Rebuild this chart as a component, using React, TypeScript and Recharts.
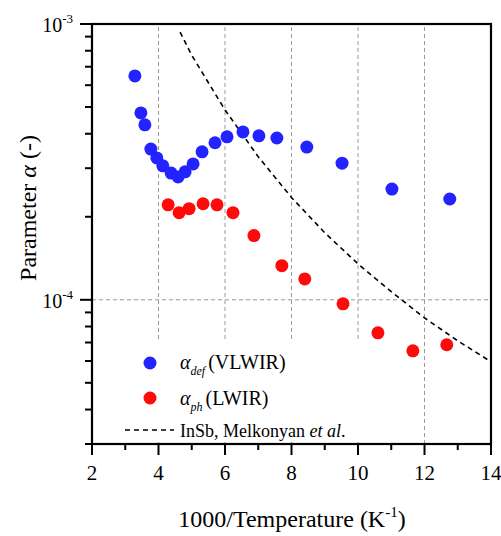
import React from 'react';
import {
  ScatterChart,
  Scatter,
  XAxis,
  YAxis,
  ReferenceLine,
} from 'recharts';

// VLWIR (alpha_def)
const defX = [3.29, 3.47, 3.59, 3.77, 3.95, 4.13, 4.38, 4.59, 4.8, 5.04, 5.31, 5.7, 6.06, 6.54, 7.02, 7.56, 8.46, 9.52, 11.02, 12.76];
const defA = [6.48e-4, 4.76e-4, 4.31e-4, 3.52e-4, 3.27e-4, 3.06e-4, 2.88e-4, 2.79e-4, 2.91e-4, 3.11e-4, 3.44e-4, 3.71e-4, 3.9e-4, 4.06e-4, 3.93e-4, 3.86e-4, 3.58e-4, 3.13e-4, 2.52e-4, 2.32e-4];

// LWIR (alpha_ph)
const phX = [4.29, 4.62, 4.92, 5.34, 5.76, 6.24, 6.87, 7.71, 8.4, 9.55, 10.6, 11.65, 12.67];
const phA = [2.21e-4, 2.07e-4, 2.14e-4, 2.23e-4, 2.21e-4, 2.07e-4, 1.71e-4, 1.33e-4, 1.19e-4, 9.67e-5, 7.59e-5, 6.53e-5, 6.87e-5];

// InSb, Melkonyan et al. (dashed)
const insbX = [4.65, 5, 6, 7, 8, 9, 10, 11, 12, 13, 14];
const insbA = [9.35e-4, 7.7e-4, 4.88e-4, 3.3e-4, 2.35e-4, 1.75e-4, 1.35e-4, 1.07e-4, 8.6e-5, 7.1e-5, 5.96e-5];

const xTicks = [2, 3, 4, 5, 6, 7, 8, 9, 10, 11, 12, 13, 14];
const yTicks = [3e-5, 4e-5, 5e-5, 6e-5, 7e-5, 8e-5, 9e-5, 1e-4, 2e-4, 3e-4, 4e-4, 5e-4, 6e-4, 7e-4, 8e-4, 9e-4, 1e-3];
const gridX = [4, 6, 8, 10, 12];

const toPoints = (xs: number[], ys: number[]) => xs.map((x, i) => ({ x, y: ys[i] }));

const BLUE = '#2323ff';
const RED = '#ff0a0a';
const serif = (size: number) => ({ fontFamily: 'Liberation Serif', fontSize: size });

// plot box (matches chart margins + axis sizes below)
const W = 501, H = 536;
const M = { top: 24, right: 10, bottom: 12, left: 12 };
const AX_W = 80, AX_H = 80;
const PL = M.left + AX_W, PT = M.top;
const PR = W - M.right, PB = H - M.bottom - AX_H;
const X0 = 2, X1 = 14, Y0 = 3e-5, Y1 = 1e-3;
const sx = (v: number) => PL + ((v - X0) / (X1 - X0)) * (PR - PL);
const sy = (v: number) =>
  PB - ((Math.log10(v) - Math.log10(Y0)) / (Math.log10(Y1) - Math.log10(Y0))) * (PB - PT);

const Dot = (color: string) => (props: any) => (
  <circle cx={props.cx} cy={props.cy} r={6.5} fill={color} />
);

function Axes() {
  return (
    <g>
      {xTicks.map((v) => {
        const major = v % 2 === 0;
        const x = sx(v);
        return (
          <g key={`x${v}`}>
            <line x1={x} x2={x} y1={PB} y2={PB + (major ? 11 : 6)} stroke="#000" strokeWidth={2} />
            {major && (
              <text x={x} y={PB + 36} textAnchor="middle" style={serif(21)} fill="#000">
                {v}
              </text>
            )}
          </g>
        );
      })}
      {yTicks.map((v) => {
        const lg = Math.log10(v);
        const major = Math.abs(lg - Math.round(lg)) < 1e-6;
        const y = sy(v);
        return (
          <g key={`y${v}`}>
            <line x1={PL} x2={PL - (major ? 12 : 7)} y1={y} y2={y} stroke="#000" strokeWidth={2} />
            {major && (
              <text x={PL - 19} y={y + 8} textAnchor="end" style={serif(20)} fill="#000">
                10<tspan dy={-9} style={serif(13)}>{Math.round(lg)}</tspan>
              </text>
            )}
          </g>
        );
      })}
      <rect x={PL} y={PT} width={PR - PL} height={PB - PT} fill="none" stroke="#000" strokeWidth={2.2} />
    </g>
  );
}

export default function App() {
  return (
    <div style={{ position: 'absolute', left: 0, top: 0, width: W, height: H, background: '#fff' }}>
      <ScatterChart width={W} height={H} margin={M}>
        <XAxis
          type="number"
          dataKey="x"
          domain={[X0, X1]}
          ticks={xTicks}
          height={AX_H}
          axisLine={false}
          tickLine={false}
          tick={false}
          allowDataOverflow
        />
        <YAxis
          type="number"
          dataKey="y"
          scale="log"
          domain={[Y0, Y1]}
          ticks={yTicks}
          width={AX_W}
          axisLine={false}
          tickLine={false}
          tick={false}
          allowDataOverflow
        />
        {gridX.map((v) => (
          <ReferenceLine key={v} x={v} stroke="#9a9a9a" strokeDasharray="4 3" strokeWidth={1} />
        ))}
        <ReferenceLine y={1e-4} stroke="#9a9a9a" strokeDasharray="4 3" strokeWidth={1} />
        <Scatter
          data={toPoints(insbX, insbA)}
          line={{ stroke: '#000', strokeWidth: 1.6, strokeDasharray: '5 4' }}
          lineType="joint"
          shape={() => <g />}
          isAnimationActive={false}
        />
        <Scatter data={toPoints(defX, defA)} shape={Dot(BLUE)} isAnimationActive={false} />
        <Scatter data={toPoints(phX, phA)} shape={Dot(RED)} isAnimationActive={false} />
      </ScatterChart>
      <svg width={W} height={H} style={{ position: 'absolute', left: 0, top: 0, pointerEvents: 'none' }}>
        <rect x={110} y={340} width={265} height={102} fill="#fff" />
        <circle cx={150} cy={363} r={6.5} fill={BLUE} />
        <text x={180} y={369} style={serif(20)} fill="#000">
          <tspan style={{ fontStyle: 'italic' }}>α</tspan>
          <tspan style={{ fontStyle: 'italic', fontSize: 12 }} dy={6}>def</tspan>
          <tspan dy={-6} dx={3}>(VLWIR)</tspan>
        </text>
        <circle cx={150} cy={398} r={6.5} fill={RED} />
        <text x={180} y={405} style={serif(20)} fill="#000">
          <tspan style={{ fontStyle: 'italic' }}>α</tspan>
          <tspan style={{ fontStyle: 'italic', fontSize: 12 }} dy={6}>ph</tspan>
          <tspan dy={-6} dx={3}>(LWIR)</tspan>
        </text>
        <line x1={125} x2={174} y1={430} y2={430} stroke="#000" strokeWidth={1.6} strokeDasharray="5 4" />
        <text x={180} y={437} style={serif(18)} fill="#000">
          InSb, Melkonyan <tspan style={{ fontStyle: 'italic' }}>et al</tspan>.
        </text>
        <Axes />
        <text x={292} y={527} textAnchor="middle" style={serif(24)} fill="#000">
          1000/Temperature (K<tspan dy={-10} style={{ fontSize: 15 }}>-1</tspan>
          <tspan dy={10}>)</tspan>
        </text>
        <text transform="translate(36, 208) rotate(-90)" textAnchor="middle" style={serif(24)} fill="#000">
          Parameter <tspan style={{ fontStyle: 'italic' }}>α</tspan> (-)
        </text>
      </svg>
    </div>
  );
}
